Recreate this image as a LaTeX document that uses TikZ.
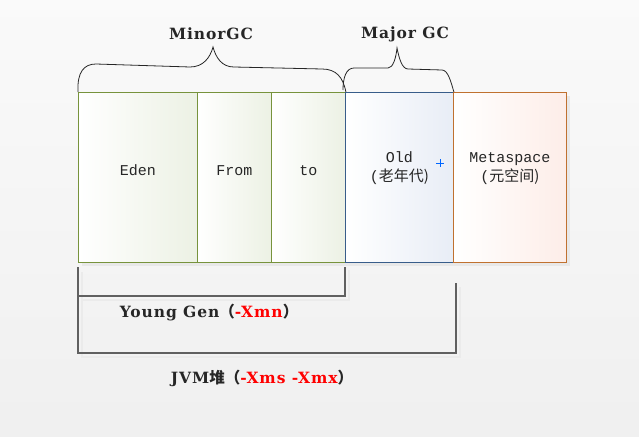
\documentclass[tikz,border=0pt]{standalone}
\usepackage{fontspec}
\setmainfont{DejaVu Serif}
\newfontfamily\lblf[LetterSpace=6]{DejaVu Serif}
\newfontfamily\monof{Liberation Mono}
\newfontfamily\cjk{Noto Sans CJK SC}
\usetikzlibrary{shadows}
\definecolor{gbord}{HTML}{77933C}
\definecolor{bbord}{HTML}{385D8A}
\definecolor{obord}{HTML}{C0712F}
\definecolor{gfill}{HTML}{ECF1E4}
\definecolor{bfill}{HTML}{E8EDF6}
\definecolor{ofill}{HTML}{FDEDE8}
\definecolor{txt}{HTML}{262626}
\definecolor{brk}{HTML}{606060}
\tikzset{
  region/.style={draw, line width=0.9pt, inner sep=0pt, anchor=north west, minimum height=170pt,
     drop shadow={shadow xshift=4pt, shadow yshift=-4pt, fill=black!9, opacity=1}},
  young/.style={region, draw=gbord, left color=white, right color=gfill},
  oldst/.style={region, draw=bbord, left color=white, right color=bfill},
  metast/.style={region, draw=obord, left color=white, right color=ofill},
  rtext/.style={font=\monof\fontsize{15}{19}\selectfont, text=txt, align=center, inner sep=0pt},
  lbl/.style={font=\lblf\bfseries\fontsize{15.5}{17}\selectfont, text=txt, inner sep=0pt},
  bracket/.style={draw=brk, line width=1.1pt},
  brshadow/.style={draw=black!8, line width=2pt},
  brace/.style={draw=black!85, line width=0.8pt},
}
\begin{document}
\begin{tikzpicture}[x=1pt,y=-1pt]
\shade[top color=white!98!black, bottom color=white!94!black] (0,0) rectangle (639,436);
\useasboundingbox (0,0) rectangle (639,436);
% shadows of brackets
\draw[brshadow] (82,272) -- (82,300) -- (349,300) -- (349,270);
\draw[brshadow] (82,300) -- (82,357) -- (460,357) -- (460,287);
% regions
\node[young, minimum width=119pt] (eden) at (78,92) {};
\node[young, minimum width=74pt] (from) at (197,92) {};
\node[young, minimum width=74pt] (to) at (271,92) {};
\node[oldst, minimum width=108pt] (old) at (345,92) {};
\node[metast, minimum width=113pt] (meta) at (453,92) {};
\node[rtext] (edent) at ([yshift=7pt]eden.center) {Eden};
\node[rtext] (fromt) at ([yshift=7pt]from.center) {From};
\node[rtext] (tot) at ([yshift=7pt]to.center) {to};
\node[rtext] (oldt) at ([yshift=9pt]old.center) {Old\\(\cjk 老年代)};
\node[rtext] (metat) at ([yshift=9pt]meta.center) {Metaspace\\(\cjk 元空间)};
% marker
\draw[draw=blue!60!cyan, line width=0.8pt] (436,163) -- (444,163) (440,159) -- (440,167);
% brackets
\coordinate (ya) at (78,267);
\coordinate (yb) at (345,267);
\coordinate (ja) at (456,283);
\draw[bracket] (ya) -- (78,296) -- (345,296) -- (yb);
\draw[bracket] (78,296) -- (78,353) -- (456,353) -- (ja);
% braces
\draw[brace] (eden.north west) .. controls (77,72) and (84,64) .. (96,64)
  -- (190,67) .. controls (203,67) and (210,58) .. (213,47)
  .. controls (216,58) and (222,67) .. (234,67)
  -- (322,69) .. controls (336,69) and (343,77) .. (to.north east);
\draw[brace] (343,90) .. controls (343,78) and (346,68) .. (354,68)
  -- (388,68) .. controls (393,68) and (396,58) .. (397,48)
  .. controls (399,58) and (402,69) .. (408,69)
  -- (442,70) .. controls (448,70) and (451,82) .. (old.north east);
% labels
\node[lbl] (minor) at (211,34) {MinorGC};
\node[lbl] (major) at (405,34) {Major GC};
\node[lbl] (ylbl) at (209,313) {Young Gen{\cjk （}\textcolor{red}{-Xmn}{\cjk ）}};
\node[lbl] (jlbl) at (262,378) {JVM{\cjk 堆（}\textcolor{red}{-Xms -Xmx}{\cjk ）}};
\end{tikzpicture}
\end{document}
